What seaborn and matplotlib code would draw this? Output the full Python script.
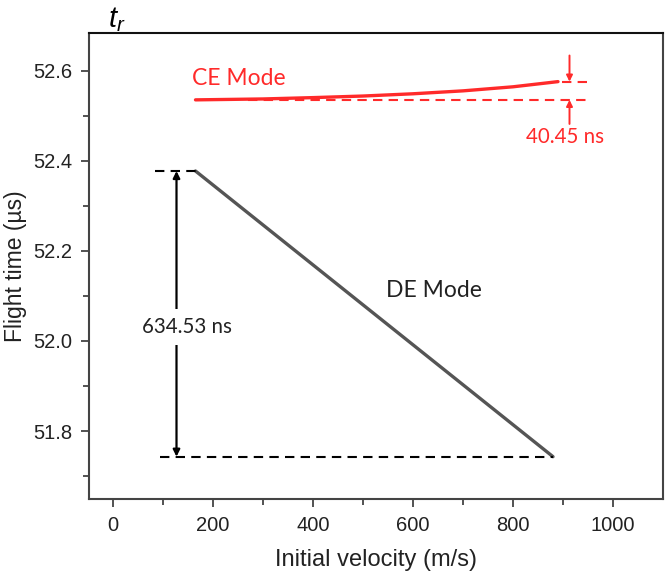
import matplotlib
matplotlib.use("Agg")
import matplotlib.pyplot as plt
import pandas as pd
import seaborn as sns

# ---- data ----
de_velocity = [165, 880]
de_time = [52.3775, 51.743]
ce_velocity = [165, 300, 400, 500, 600, 700, 800, 890]
ce_time = [52.5355, 52.5375, 52.5405, 52.544, 52.549, 52.5555, 52.5645, 52.576]
de_span_label = "634.53 ns"
ce_span_label = "40.45 ns"
de_label = "DE Mode"
ce_label = "CE Mode"
x_ticks = [0, 200, 400, 600, 800, 1000]
y_ticks = [51.8, 52.0, 52.2, 52.4, 52.6]
x_label = "Initial velocity (m/s)"
y_label = "Flight time (\u00b5s)"

sns.set_style("ticks")
plt.rcParams["font.family"] = ["Liberation Sans", "DejaVu Sans"]
plt.rcParams["mathtext.fontset"] = "custom"
plt.rcParams["mathtext.it"] = "Liberation Sans:italic"
plt.rcParams["mathtext.rm"] = "Liberation Sans"

fig = plt.figure(figsize=(6.66, 5.74), dpi=100)
ax = fig.add_axes([89 / 666, 1 - 499 / 574, (663 - 89) / 666, (499 - 33) / 574])

de_df = pd.DataFrame({"v": de_velocity, "t": de_time})
ce_df = pd.DataFrame({"v": ce_velocity, "t": ce_time})

RED = "#ff2a2a"
GREY = "#555555"
sns.lineplot(data=de_df, x="v", y="t", ax=ax, color=GREY, lw=2.4, sort=False)
sns.lineplot(data=ce_df, x="v", y="t", ax=ax, color=RED, lw=2.4, sort=False)

dash = (0, (4.5, 3))
de_hi, de_lo = max(de_time), min(de_time)
ce_lo, ce_hi = ce_time[0], ce_time[-1]

# DE reference dashes
ax.plot([83, de_velocity[0]], [de_hi, de_hi], color="black", lw=1.5, ls=dash)
ax.plot([93, de_velocity[-1]], [de_lo, de_lo], color="black", lw=1.5, ls=dash)
ax.annotate("", xy=(127, de_lo), xytext=(127, de_hi),
            arrowprops=dict(arrowstyle="<|-|>", color="black", lw=1.6,
                            mutation_scale=10, shrinkA=0, shrinkB=0))
ax.text(148, 52.031, de_span_label, ha="center", va="center", fontsize=14.8,
        family=["Lato", "DejaVu Sans"], color="#222222",
        bbox=dict(facecolor="white", edgecolor="none", pad=6))

# CE reference dashes
ax.plot([270, 950], [ce_lo, ce_lo], color=RED, lw=1.5, ls=dash)
ax.plot([ce_velocity[-1] + 8, 950], [ce_hi, ce_hi], color=RED, lw=1.5, ls=dash)
ax.annotate("", xy=(913, ce_hi), xytext=(913, 52.634),
            arrowprops=dict(arrowstyle="-|>", color=RED, lw=1.4,
                            mutation_scale=9, shrinkA=0, shrinkB=0))
ax.annotate("", xy=(913, ce_lo), xytext=(913, 52.482),
            arrowprops=dict(arrowstyle="-|>", color=RED, lw=1.4,
                            mutation_scale=9, shrinkA=0, shrinkB=0))
ax.text(903, 52.452, ce_span_label, ha="center", va="center", fontsize=14.8,
        family=["Lato", "DejaVu Sans"], color=RED)

ax.text(159, 52.584, ce_label, ha="left", va="center", fontsize=16.5,
        family=["Lato", "DejaVu Sans"], color=RED)
ax.text(547, 52.113, de_label, ha="left", va="center", fontsize=16.5,
        family=["Lato", "DejaVu Sans"], color="#222222")

ax.set_xlim(-48, 1100)
ax.set_ylim(51.649, 52.684)
ax.set_xticks(x_ticks)
ax.set_yticks(y_ticks)
ax.set_xticks([100, 300, 500, 700, 900], minor=True)
ax.set_yticks([51.7, 51.9, 52.1, 52.3, 52.5], minor=True)
ax.set_yticklabels([f"{v:.1f}" for v in y_ticks])
ax.tick_params(axis="both", which="major", length=6, width=1.3, color="#444444",
               labelsize=14.5, labelcolor="#222222", direction="out", pad=6)
ax.tick_params(axis="both", which="minor", length=4, width=1.3, color="#444444",
               direction="out")
ax.set_xlabel(x_label, fontsize=17, color="#222222")
ax.xaxis.set_label_coords(0.5, -0.108)
ax.xaxis.label.set_va("top")
ax.set_ylabel(y_label, fontsize=16.5, color="#222222")
ax.yaxis.set_label_coords(-(89 - 27) / 574, 0.5)
for side, sp in ax.spines.items():
    sp.set_visible(True)
    sp.set_color("#444444")
    sp.set_linewidth(1.5)
ax.spines["top"].set_color("#111111")

fig.text(108 / 666, 1 - 27 / 574, r"$t_r$", fontsize=21, ha="left",
         va="baseline", color="black")

fig.savefig("out.png", dpi=100)
